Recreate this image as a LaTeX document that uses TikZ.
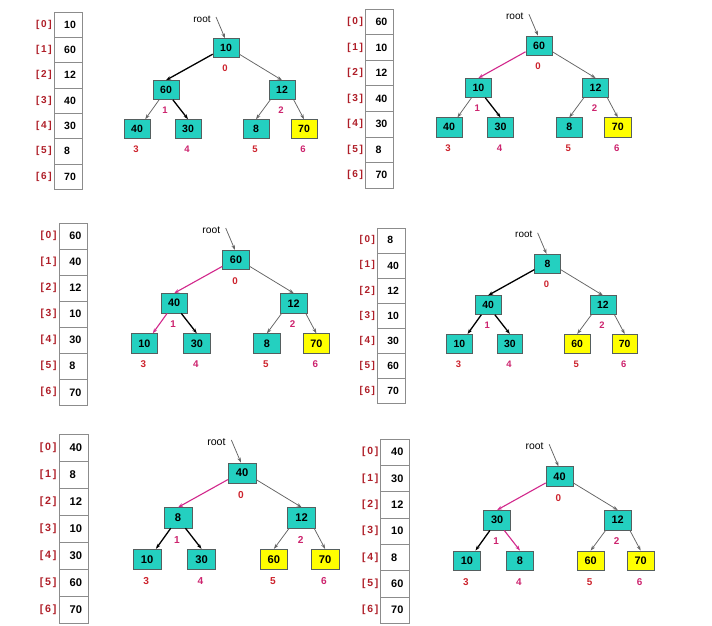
\documentclass[tikz,border=0pt]{standalone}
\usepackage{fontspec}
\setmainfont{Liberation Sans}
\usetikzlibrary{arrows.meta}
\definecolor{cyn}{RGB}{36,208,192}
\definecolor{ylw}{RGB}{255,255,0}
\definecolor{nbd}{RGB}{85,95,95}
\definecolor{idxred}{RGB}{205,35,45}
\definecolor{idxmag}{RGB}{205,35,110}
\definecolor{arrred}{RGB}{175,30,40}
\definecolor{mgn}{RGB}{210,40,140}
\definecolor{gyl}{RGB}{100,100,100}
\tikzset{
 tnode/.style={draw=nbd, line width=0.6pt, minimum width=26pt, minimum height=19pt, inner sep=0pt, font=\fontsize{10.5}{12}\selectfont\bfseries},
 cellbox/.style={draw=gray!90, line width=0.6pt, minimum width=28pt, minimum height=25.3pt, inner sep=0pt},
 cellval/.style={anchor=west, inner sep=0pt, font=\fontsize{10.5}{12}\selectfont\bfseries},
 arrlbl/.style={anchor=east, inner sep=0pt, text=arrred, font=\fontsize{10}{12}\selectfont\bfseries},
 idxlbl/.style={inner sep=0pt, font=\fontsize{9.5}{11}\selectfont\bfseries},
 rootlbl/.style={inner sep=0pt, font=\fontsize{10}{12}\selectfont},
 tip/.style={-{Stealth[length=5pt,width=3.5pt]}},
 bk/.style={tip, draw=black, line width=1.3pt},
 gy/.style={tip, draw=gyl, line width=0.75pt},
 mg/.style={tip, draw=mgn, line width=1.1pt},
 rp/.style={tip, draw=gyl, line width=0.75pt},
}
\newcommand\drawedges[4]{%
 \draw[#2] (#1n0.205) -- (#1n1.north);
 \draw[gy] (#1n0.335) -- (#1n2.north);
 \draw[#3] (#1n1.235) -- (#1n3.50);
 \draw[#4] (#1n1.305) -- (#1n4.north);
 \draw[gy] (#1n2.220) -- (#1n5.north);
 \draw[gy] (#1n2.320) -- (#1n6.north);
}
\newcommand\heappanel[5]{%
\begin{scope}[#1]
 \foreach \x/\y [count=\i from 0] in {0/0,-60/42,56/42,-89/81,-38/81,30/81,78/81}{
   \pgfmathtruncatemacro\val{{#3}[\i]}
   \ifnum\i>\numexpr6-#4\relax\def\nf{ylw}\else\def\nf{cyn}\fi
   \ifcase\i \def\ic{idxred}\or\def\ic{idxmag}\or\def\ic{idxmag}\or\def\ic{idxred}\or\def\ic{idxmag}\or\def\ic{idxred}\or\def\ic{idxmag}\fi
   \node[tnode, fill=\nf] (#2n\i) at (\x,\y) {\val};
   \node[idxlbl, text=\ic] (#2i\i) at (\x-1,\y+20.5) {\i};
   \pgfmathsetmacro\cy{-36+25.3*(\i+0.5)}
   \node[cellbox] (#2c\i) at (-158,\cy) {};
   \node[cellval] (#2v\i) at (-162,\cy) {\val};
   \node[arrlbl] (#2a\i) at (-174,\cy) {[\,\i\,]};
 }
 \coordinate (#2rp) at (-10,-31);
 \node[rootlbl] (#2rt) at (-24,-29) {root};
 \draw[rp] (#2rp) -- ([xshift=-1pt]#2n0.north);
 \drawedges{#2}#5
\end{scope}}
\begin{document}
\begin{tikzpicture}[x=1pt,y=-1pt]
\useasboundingbox (0,0) rectangle (712,626);
\fill[white] (0,0) rectangle (712,626);
\heappanel{shift={(226,48)}}{A}{10,60,12,40,30,8,70}{1}{{bk}{gy}{bk}}
\heappanel{shift={(539,45.5)},scale=1.01,transform shape}{B}{60,10,12,40,30,8,70}{1}{{mg}{gy}{bk}}
\heappanel{shift={(236,260)},scale=1.03,transform shape}{C}{60,40,12,10,30,8,70}{1}{{mg}{mg}{bk}}
\heappanel{shift={(547.5,263.5)},scale=0.99,transform shape}{D}{8,40,12,10,30,60,70}{2}{{bk}{bk}{bk}}
\heappanel{shift={(242,473)},scale=1.065,transform shape}{E}{40,8,12,10,30,60,70}{2}{{mg}{bk}{bk}}
\heappanel{shift={(559.5,476.5)},scale=1.04,transform shape}{F}{40,30,12,10,8,60,70}{2}{{mg}{bk}{mg}}
\end{tikzpicture}
\end{document}
